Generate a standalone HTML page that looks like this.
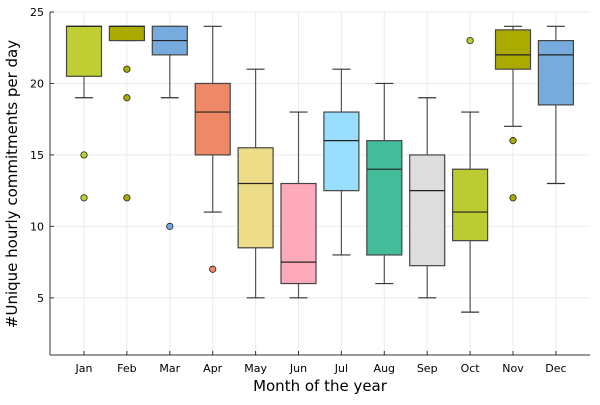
<!DOCTYPE html>
<html><head><meta charset="utf-8"><style>
body{margin:0;background:#fff;font-family:"Liberation Sans","DejaVu Sans",sans-serif}
svg text{font-family:"DejaVu Sans","Liberation Sans",sans-serif}
</style></head><body>
<svg id="chart" width="600" height="400" xmlns="http://www.w3.org/2000/svg">
<rect width="600" height="400" fill="#fff"/>
<g id="grid"></g><g id="boxes"></g><g id="axes"></g>
<text x="320" y="391" font-size="15" text-anchor="middle">Month of the year</text>
<text transform="translate(17,184) rotate(-90)" font-size="15" text-anchor="middle">#Unique hourly commitments per day</text>
</svg>
<script>
const months=["Jan","Feb","Mar","Apr","May","Jun","Jul","Aug","Sep","Oct","Nov","Dec"];
const whiskLo=[19,23,19,11,5,5,8,6,5,4,17,13];
const q1=[20.5,23,22,15,8.5,6,12.5,8,7.25,9,21,18.5];
const med=[24,24,23,18,13,7.5,16,14,12.5,11,22,22];
const q3=[24,24,24,20,15.5,13,18,16,15,14,23.75,23];
const whiskHi=[24,24,24,24,21,18,21,20,19,18,24,24];
const outliers=[[15,12],[21,19,12],[10],[7],[],[],[],[],[],[23],[16,12],[]];
const colors=["#bfce33","#aaaa00","#77aadd","#ee8866","#eedd88","#ffaabb","#99ddff","#44bb99","#dddddd","#bbcc33","#aaaa00","#77aadd"];
const yTicks=[5,10,15,20,25];
const NS="http://www.w3.org/2000/svg";
const L=50,R=590,T=12,B=355;
const X=i=>84+i*42.9;
const Y=v=>T+(25-v)*(B-T)/24;
function mk(tag,attrs,parent){const e=document.createElementNS(NS,tag);for(const k in attrs)e.setAttribute(k,attrs[k]);parent.appendChild(e);return e;}
const grid=document.getElementById('grid'),boxes=document.getElementById('boxes'),axes=document.getElementById('axes');
yTicks.forEach(t=>{
 const g=mk('line',{x1:L,x2:R,y1:Y(t),y2:Y(t),stroke:'#ebebeb','stroke-width':1},grid);
 
 
 const lb=mk('text',{x:L-6,y:Y(t)+4,'font-size':11,'text-anchor':'end'},axes);lb.textContent=t;
 
 
 mk('line',{x1:L,x2:L+4,y1:Y(t),y2:Y(t),stroke:'#333'},axes);
});
months.forEach((m,i)=>{
 const gl=mk('line',{x1:X(i),x2:X(i),y1:T,y2:B,stroke:'#ebebeb'},grid);
 
 
 const lb=mk('text',{x:X(i),y:B+17,'font-size':11,'text-anchor':'middle'},axes);lb.textContent=m;
 
 
 mk('line',{x1:X(i),x2:X(i),y1:B,y2:B-4,stroke:'#333'},axes);
 const g=mk('g',{},boxes);
 
 
 const x=X(i),hw=17.5,cw=9;
 mk('line',{x1:x,x2:x,y1:Y(whiskHi[i]),y2:Y(q3[i]),stroke:'#555','stroke-width':1.2},g);
 mk('line',{x1:x,x2:x,y1:Y(q1[i]),y2:Y(whiskLo[i]),stroke:'#555','stroke-width':1.2},g);
 mk('line',{x1:x-cw,x2:x+cw,y1:Y(whiskHi[i]),y2:Y(whiskHi[i]),stroke:'#333','stroke-width':1.2},g);
 mk('line',{x1:x-cw,x2:x+cw,y1:Y(whiskLo[i]),y2:Y(whiskLo[i]),stroke:'#333','stroke-width':1.2},g);
 mk('rect',{x:x-hw,y:Y(q3[i]),width:2*hw,height:Y(q1[i])-Y(q3[i]),fill:colors[i],stroke:'#444','stroke-width':1.2},g);
 mk('line',{x1:x-hw,x2:x+hw,y1:Y(med[i]),y2:Y(med[i]),stroke:'#222','stroke-width':1.2},g);
 outliers[i].forEach(o=>{
  const c=mk('circle',{cx:x,cy:Y(o),r:3.2,fill:colors[i],stroke:'#222','stroke-width':0.8},g);
  
  
 });
});
mk('line',{x1:L,x2:L,y1:T,y2:B,stroke:'#333','stroke-width':1},axes);
mk('line',{x1:L,x2:R,y1:B,y2:B,stroke:'#333','stroke-width':1},axes);
</script>
</body></html>
